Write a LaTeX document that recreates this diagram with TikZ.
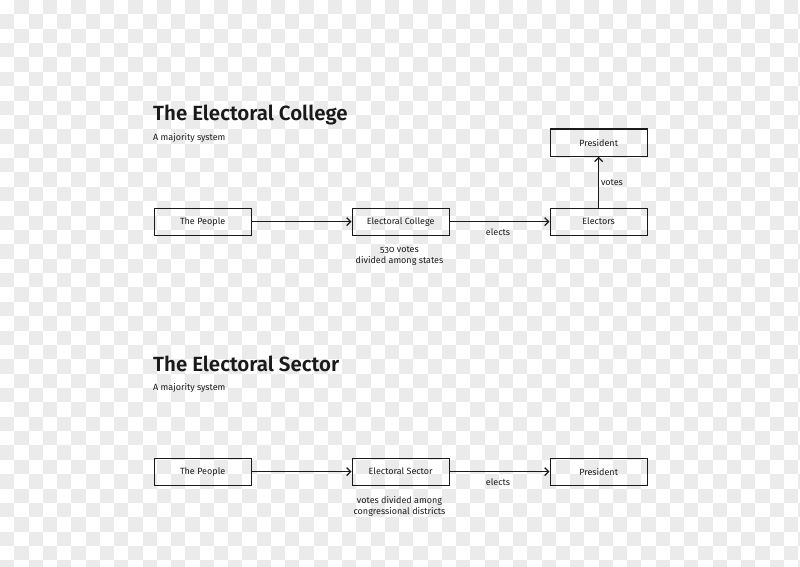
\documentclass[tikz,border=0pt]{standalone}
\usepackage{fontspec}
\setmainfont{Fira Sans}[Numbers=OldStyle, BoldFont={Fira Sans SemiBold}]
\usetikzlibrary{arrows.meta}
\definecolor{chk}{HTML}{EBEBEB}
\definecolor{ink}{HTML}{1A1A1A}
\tikzset{
  box/.style={draw=ink, line width=1.3pt, minimum width=97pt, minimum height=27pt, inner sep=0pt, font=\fontsize{9}{10}\selectfont, text=ink},
  conn/.style={draw=ink, line width=1.2pt, -{Straight Barb[length=4pt,width=8pt,line width=1.2pt]}},
  lbl/.style={font=\fontsize{9}{11}\selectfont, text=ink, align=center, inner sep=0pt},
  title/.style={font=\fontsize{20.5}{22}\selectfont\bfseries, text=ink, anchor=base west, inner sep=0pt},
  sub/.style={font=\fontsize{9}{10}\selectfont, text=ink, anchor=base west, inner sep=0pt}
}
\begin{document}
\begin{tikzpicture}[x=1pt,y=-1pt]
\useasboundingbox (0,0) rectangle (800,567);
\fill[white] (0,0) rectangle (800,567);
\foreach \i in {0,...,56}{
  \foreach \j in {0,...,39}{
    \pgfmathparse{int(mod(\i+\j,2))}
    \ifnum\pgfmathresult=1
      \fill[chk] (\i*14.25,\j*14.37) rectangle ({(\i+1)*14.25},{(\j+1)*14.37});
    \fi
  }
}
% Section 1
\node[title] (t1) at (153,121) {The Electoral College};
\node[sub] (s1) at (153,140) {A majority system};
\node[box, anchor=north west] (p1) at (153.5,207.5) {The People};
\node[box, anchor=north west] (ec) at (351.5,207.5) {Electoral College};
\node[box, anchor=north west] (el) at (549.5,207.5) {Electors};
\node[box, anchor=north west] (pr1) at (549.5,128.5) {President};
\draw[conn] (p1) -- (ec);
\draw[conn] (ec) -- (el);
\draw[conn] (el) -- (pr1);
\node[lbl] (e1) at (498,232) {elects};
\node[lbl] (v1) at (612,183) {votes};
\node[lbl] (n1) at (399.5,256) {530 votes\\divided among states};
% Section 2
\node[title] (t2) at (153,371) {The Electoral Sector};
\node[sub] (s2) at (153,390) {A majority system};
\node[box, anchor=north west] (p2) at (153.5,457.5) {The People};
\node[box, anchor=north west] (es) at (351.5,457.5) {Electoral Sector};
\node[box, anchor=north west] (pr2) at (549.5,457.5) {President};
\draw[conn] (p2) -- (es);
\draw[conn] (es) -- (pr2);
\node[lbl] (e2) at (498,482) {elects};
\node[lbl] (n2) at (399.5,506) {votes divided among\\congressional districts};
\end{tikzpicture}
\end{document}
